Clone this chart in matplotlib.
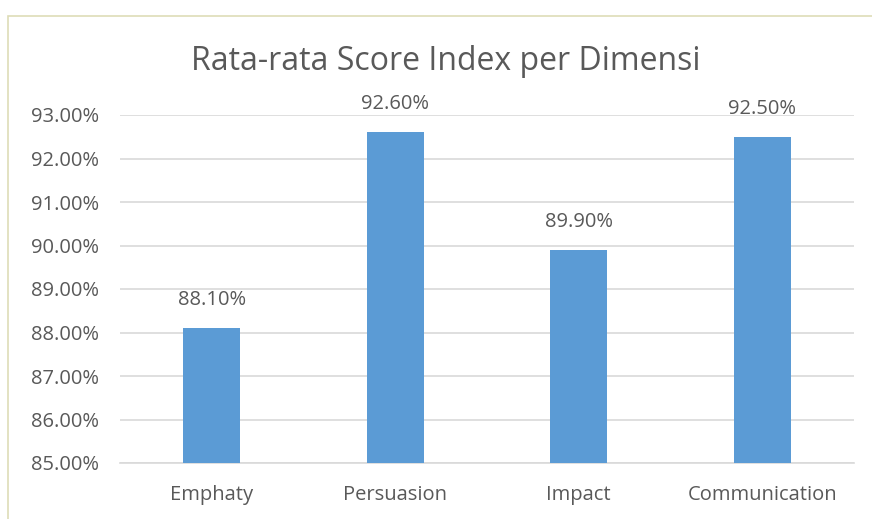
import matplotlib.pyplot as plt
from matplotlib.patches import Rectangle

categories = ['Emphaty', 'Persuasion', 'Impact', 'Communication']
scores = [88.10, 92.60, 89.90, 92.50]
yticks = [85, 86, 87, 88, 89, 90, 91, 92, 93]

text_col = '#595959'
grid_col = '#d9d9d9'
bar_col = '#5b9bd5'

plt.rcParams['font.family'] = ['Open Sans', 'DejaVu Sans']

fig = plt.figure(figsize=(8.72, 5.19), dpi=100)
# chart area border
fig.patches.append(Rectangle((8 / 872, -0.1), 1.0, 1 - 16 / 519 + 0.1,
                             transform=fig.transFigure, fill=False,
                             edgecolor='#deddb8', linewidth=1.2))

ax = fig.add_axes([120 / 872, 1 - 463 / 519, (854 - 120) / 872, (463 - 115) / 519])
x = range(len(categories))
ax.bar(x, [s - 85 for s in scores], bottom=85, width=0.31, color=bar_col, zorder=3)
ax.set_ylim(85, 93)
ax.set_xlim(-0.5, len(categories) - 0.5)
ax.set_yticks(yticks)
ax.set_yticklabels(['%.2f%%' % v for v in yticks])
ax.set_xticks(list(x))
ax.set_xticklabels(categories)
ax.tick_params(length=0, labelsize=14.5, colors=text_col)
ax.tick_params(axis='y', pad=15)
ax.tick_params(axis='x', pad=16)
ax.grid(axis='y', color=grid_col, linewidth=1.2, zorder=0)
for side in ['top', 'right', 'left']:
    ax.spines[side].set_visible(False)
ax.spines['bottom'].set_color(grid_col)
ax.spines['bottom'].set_linewidth(1.2)

for i, s in enumerate(scores):
    ax.annotate('%.2f%%' % s, (i, s), xytext=(0, 13), textcoords='offset points',
                ha='center', va='bottom', fontsize=14.5, color=text_col, clip_on=False)

fig.text(446 / 872, 1 - 62 / 519, 'Rata-rata Score Index per Dimensi',
         ha='center', va='center', fontsize=23, color=text_col)

fig.savefig('out.png', dpi=100)
